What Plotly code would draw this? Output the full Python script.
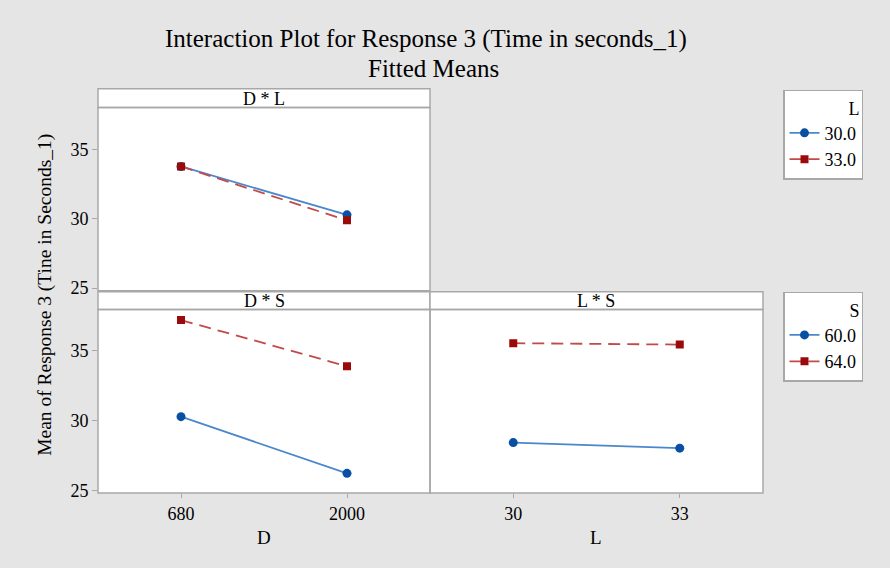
import plotly.graph_objects as go

# ---- data ----
D_levels = ["680", "2000"]
L_levels = ["30", "33"]
DL_L30 = [33.8, 30.3]
DL_L33 = [33.8, 29.9]
DS_S60 = [30.3, 26.25]
DS_S64 = [37.2, 33.9]
LS_S60 = [28.45, 28.05]
LS_S64 = [35.55, 35.45]
y_ticks = [25, 30, 35]

W, H = 890, 568
FONT = "Liberation Serif, Times New Roman, serif"
BLUE_L, BLUE_M = "#4a88cc", "#0b4fa3"
RED_L, RED_M = "#c24a4a", "#9a0a0a"
GRAY = "#a8a8a8"


def px(x):
    return x / W


def py(y):
    return 1 - y / H


fig = go.Figure()


def add_pair(xs, ys_blue, ys_red, xa, ya, names, legend, show):
    fig.add_trace(go.Scatter(x=xs, y=ys_blue, mode="lines+markers", name=names[0],
                             xaxis=xa, yaxis=ya, legend=legend, showlegend=show,
                             line=dict(color=BLUE_L, width=1.8),
                             marker=dict(color=BLUE_M, symbol="circle", size=9)))
    fig.add_trace(go.Scatter(x=xs, y=ys_red, mode="lines+markers", name=names[1],
                             xaxis=xa, yaxis=ya, legend=legend, showlegend=show,
                             line=dict(color=RED_L, width=1.8, dash="12px,7px"),
                             marker=dict(color=RED_M, symbol="square", size=8)))


add_pair(D_levels, DL_L30, DL_L33, "x", "y", ["30.0", "33.0"], "legend", True)
add_pair(D_levels, DS_S60, DS_S64, "x2", "y2", ["60.0", "64.0"], "legend2", True)
add_pair(L_levels, LS_S60, LS_S64, "x3", "y3", ["60.0", "64.0"], "legend2", False)

axis_common = dict(showgrid=False, zeroline=False, showline=False,
                   tickcolor=GRAY, tickwidth=1.2,
                   tickfont=dict(family=FONT, size=18, color="black"))

left_dom = [px(98), px(430)]
right_dom = [px(430), px(763)]
top_dom = [py(295), py(109)]
bot_dom = [py(500), py(314)]

fig.update_layout(
    xaxis=dict(domain=left_dom, anchor="y", type="category", range=[-0.5, 1.5],
               showticklabels=False, ticks="", **axis_common),
    yaxis=dict(domain=top_dom, anchor="x", range=[24.8, 38.07], tickvals=y_ticks,
               ticks="outside", ticklen=5, **axis_common),
    xaxis2=dict(domain=left_dom, anchor="y2", type="category", range=[-0.5, 1.5],
                ticks="outside", ticklen=4, **axis_common),
    yaxis2=dict(domain=bot_dom, anchor="x2", range=[24.85, 37.95], tickvals=y_ticks,
                ticks="outside", ticklen=5, **axis_common),
    xaxis3=dict(domain=right_dom, anchor="y3", type="category", range=[-0.5, 1.5],
                ticks="outside", ticklen=4, **axis_common),
    yaxis3=dict(domain=bot_dom, anchor="x3", range=[24.85, 37.95],
                showticklabels=False, ticks="", **axis_common),
)

shapes = []
# strips
for (x0, x1, y0, y1) in [(98, 430, 90, 109), (98, 430, 296, 314), (430, 763, 296, 314)]:
    shapes.append(dict(type="rect", xref="paper", yref="paper",
                       x0=px(x0), x1=px(x1), y0=py(y1), y1=py(y0),
                       fillcolor="white", line=dict(color=GRAY, width=1.5), layer="below"))
# panel frames
for (x0, x1, y0, y1) in [(98, 430, 109, 295), (98, 430, 314, 500), (430, 763, 314, 500)]:
    shapes.append(dict(type="rect", xref="paper", yref="paper",
                       x0=px(x0), x1=px(x1), y0=py(y1), y1=py(y0),
                       fillcolor="rgba(0,0,0,0)", line=dict(color=GRAY, width=1.5), layer="above"))

ann = []
strip_font = dict(family=FONT, size=18, color="black")
for text, xc, yc in [("D * L", 264, 100), ("D * S", 264, 305), ("L * S", 596, 305)]:
    ann.append(dict(text=text, x=px(xc), y=py(yc), xref="paper", yref="paper",
                    showarrow=False, font=strip_font, xanchor="center", yanchor="middle"))
for text, xc, yc in [("D", 264, 545), ("L", 596, 545)]:
    ann.append(dict(text=text, x=px(xc), y=py(yc), xref="paper", yref="paper",
                    showarrow=False, font=dict(family=FONT, size=19, color="black"),
                    xanchor="center", yanchor="middle"))
ann.append(dict(text="Mean of Response 3 (Tine in Seconds_1)", x=px(45), y=py(299),
                xref="paper", yref="paper", showarrow=False, textangle=-90,
                font=dict(family=FONT, size=19.5, color="black"),
                xanchor="center", yanchor="middle"))
ann.append(dict(text="Interaction Plot for Response 3 (Time in seconds_1)", x=px(426), y=py(40),
                xref="paper", yref="paper", showarrow=False,
                font=dict(family=FONT, size=25, color="black"),
                xanchor="center", yanchor="middle"))
ann.append(dict(text="Fitted Means", x=px(433), y=py(69.5),
                xref="paper", yref="paper", showarrow=False,
                font=dict(family=FONT, size=25, color="black"),
                xanchor="center", yanchor="middle"))

legend_common = dict(bgcolor="white", bordercolor=GRAY, borderwidth=1.5,
                     font=dict(family=FONT, size=18, color="black"),
                     xanchor="left", yanchor="top", tracegroupgap=0,
                     itemclick=False, itemdoubleclick=False)

fig.update_layout(
    width=W, height=H,
    margin=dict(l=0, r=0, t=0, b=0),
    paper_bgcolor="#e5e5e5", plot_bgcolor="white",
    shapes=shapes, annotations=ann,
    legend=dict(x=px(783), y=py(91), title=dict(text="L", side="top right",
                font=dict(family=FONT, size=18)), **legend_common),
    legend2=dict(x=px(783), y=py(296), title=dict(text="S", side="top right",
                 font=dict(family=FONT, size=18)), **legend_common),
    font=dict(family=FONT),
)

fig.write_html("out.html")
